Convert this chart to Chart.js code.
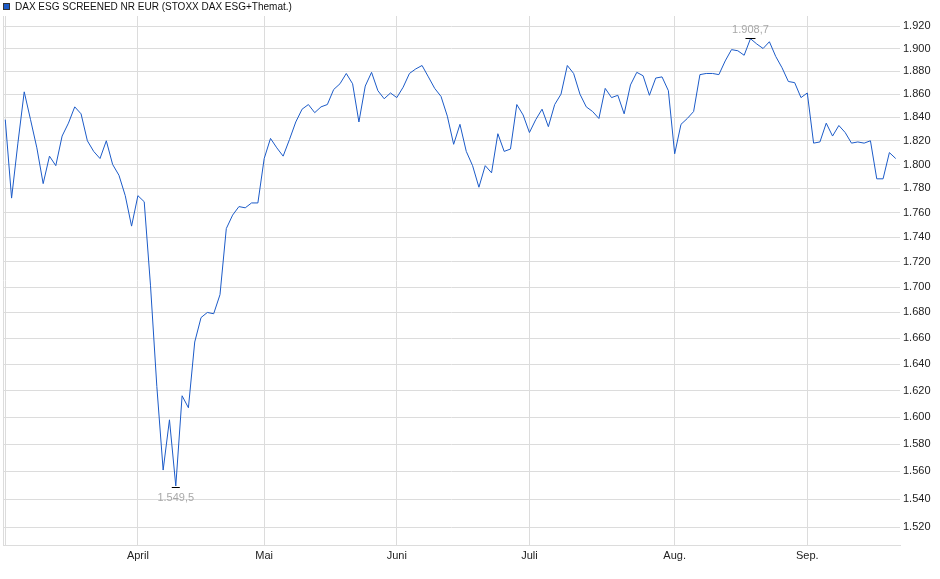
<!DOCTYPE html>
<html lang="de">
<head>
  <meta charset="UTF-8">
  <title>DAX ESG SCREENED NR EUR</title>
  <script src="https://cdn.jsdelivr.net/npm/chart.js"></script>
  <style>
    body { margin: 0; background: #fff; }
  </style>
</head>
<body>
  <canvas id="esgChart" width="940" height="579"></canvas>

  <script>
    // Schlusskurse je Handelstag, 03.03. bis 19.09.
    const seriesName = 'DAX ESG SCREENED NR EUR (STOXX DAX ESG+Themat.)';
    const closes = [
      1838, 1772, 1818, 1862, 1838, 1814, 1784, 1807, 1799, 1824,
      1835, 1849, 1843, 1820, 1811, 1805, 1820, 1800, 1791, 1774,
      1749, 1774, 1769, 1701, 1623, 1561, 1598, 1549.5, 1616, 1607,
      1657, 1676, 1680, 1679, 1694, 1747, 1758, 1765, 1764, 1768,
      1768, 1805, 1822, 1814, 1807, 1821, 1836, 1847, 1851, 1844,
      1849, 1851, 1864, 1869, 1878, 1869, 1836, 1867, 1879, 1863,
      1856, 1861, 1857, 1866, 1878, 1882, 1885, 1875, 1865, 1858,
      1841, 1817, 1834, 1811, 1799, 1781, 1799, 1793, 1826, 1811,
      1813, 1851, 1842, 1827, 1838, 1847, 1832, 1851, 1860, 1885,
      1878, 1860, 1849, 1845, 1839, 1865, 1857, 1859, 1843, 1868,
      1879, 1876, 1859, 1874, 1875, 1863, 1809, 1834, 1839, 1845,
      1877, 1878, 1878, 1877, 1889, 1899, 1898, 1894, 1908.7, 1904,
      1900, 1906, 1893, 1883, 1871, 1870, 1857, 1861, 1818, 1819,
      1835, 1824, 1833, 1827, 1818, 1819, 1818, 1820, 1788, 1788,
      1810, 1805
    ];
    // erster Handelstag je Monat (Index in closes)
    const monthStart = [0, 21, 41, 62, 83, 106, 127];
    const monthLabels = ['', 'April', 'Mai', 'Juni', 'Juli', 'Aug.', 'Sep.'];
    const yTicks = [1520, 1540, 1560, 1580, 1600, 1620, 1640, 1660, 1680, 1700,
                    1720, 1740, 1760, 1780, 1800, 1820, 1840, 1860, 1880, 1900, 1920];

    const lineColor = '#1c5bc8';
    const gridColor = '#dcdcdc';
    const fontFamily = '"Liberation Sans", Arial, sans-serif';

    // deutsches Zahlenformat: 1.920 bzw. 1.549,5
    function fmtDe(v, dec) {
      const s = v.toFixed(dec).split('.');
      const intPart = s[0].replace(/\B(?=(\d{3})+(?!\d))/g, '.');
      return s.length > 1 ? intPart + ',' + s[1] : intPart;
    }

    // Min/Max-Markierung, Legende und linker Rand
    const extrasPlugin = {
      id: 'extras',
      afterDatasetsDraw(chart) {
        const ctx = chart.ctx;
        const area = chart.chartArea;
        const pts = chart.getDatasetMeta(0).data;

        ctx.save();
        ctx.strokeStyle = gridColor;
        ctx.lineWidth = 1;
        ctx.beginPath();
        ctx.moveTo(area.left + 0.5, area.top);
        ctx.lineTo(area.left + 0.5, area.bottom);
        ctx.stroke();

        const iMin = closes.indexOf(Math.min(...closes));
        const iMax = closes.indexOf(Math.max(...closes));
        ctx.font = '11px ' + fontFamily;
        ctx.textAlign = 'center';
        ctx.textBaseline = 'middle';
        ctx.strokeStyle = '#000';

        const pMin = pts[iMin];
        ctx.beginPath();
        ctx.moveTo(pMin.x - 4, Math.round(pMin.y) + 1.5);
        ctx.lineTo(pMin.x + 4, Math.round(pMin.y) + 1.5);
        ctx.stroke();
        ctx.fillStyle = '#a8a8a8';
        ctx.fillText(fmtDe(closes[iMin], 1), pMin.x, pMin.y + 12);

        const pMax = pts[iMax];
        ctx.beginPath();
        ctx.moveTo(pMax.x - 5, Math.round(pMax.y) - 0.5);
        ctx.lineTo(pMax.x + 5, Math.round(pMax.y) - 0.5);
        ctx.stroke();
        ctx.fillText(fmtDe(closes[iMax], 1), pMax.x, pMax.y - 9);

        // Legende oben links
        ctx.fillStyle = lineColor;
        ctx.fillRect(3, 3, 7, 7);
        ctx.strokeStyle = '#333';
        ctx.strokeRect(3.5, 3.5, 6, 6);
        ctx.fillStyle = '#111';
        ctx.textAlign = 'left';
        ctx.font = '10px ' + fontFamily;
        ctx.fillText(seriesName, 15, 7);
        ctx.restore();
      }
    };

    const ctx = document.getElementById('esgChart').getContext('2d');
    const esgChart = new Chart(ctx, {
      type: 'line',
      data: {
        datasets: [{
          label: seriesName,
          data: closes.map((v, i) => ({ x: i, y: v })),
          borderColor: lineColor,
          borderWidth: 1,
          pointRadius: 0,
          fill: false,
          tension: 0
        }]
      },
      options: {
        responsive: false,
        animation: false,
        devicePixelRatio: 1,
        layout: { padding: { left: 3, top: 16, right: 0, bottom: 0 } },
        plugins: {
          legend: { display: false },
          tooltip: { enabled: false }
        },
        scales: {
          x: {
            type: 'linear',
            min: -0.36,
            max: closes.length - 1 + 0.68,
            afterBuildTicks: s => { s.ticks = monthStart.map(v => ({ value: v })); },
            afterFit: s => { s.height = 34; },
            grid: { color: gridColor, drawTicks: false },
            border: { color: gridColor },
            ticks: {
              autoSkip: false,
              maxRotation: 0,
              padding: 4,
              color: '#222',
              font: { family: fontFamily, size: 11 },
              callback: v => monthLabels[monthStart.indexOf(v)] || ''
            }
          },
          y: {
            type: 'logarithmic',
            position: 'right',
            min: 1507.4,
            max: 1929,
            afterBuildTicks: s => { s.ticks = yTicks.map(v => ({ value: v })); },
            afterFit: s => { s.width = 40; },
            grid: { color: gridColor, drawTicks: false },
            border: { display: false },
            ticks: {
              padding: 3,
              color: '#222',
              font: { family: fontFamily, size: 11 },
              callback: v => fmtDe(v, 0)
            }
          }
        }
      },
      plugins: [extrasPlugin]
    });
  </script>
</body>
</html>
